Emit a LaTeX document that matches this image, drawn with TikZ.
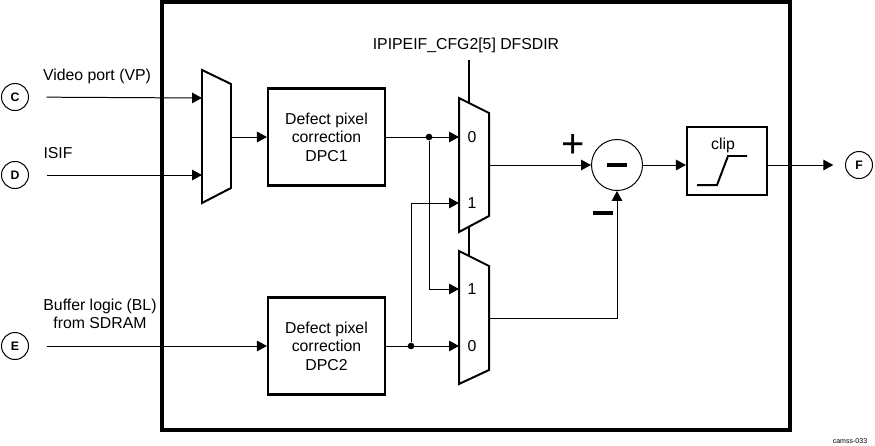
\documentclass[tikz,border=0pt]{standalone}
\usepackage{fontspec}
\setmainfont{Liberation Sans}
\usetikzlibrary{arrows.meta}

\begin{document}
\begin{tikzpicture}[x=0.03cm,y=-0.03cm,line join=miter,
    >={Triangle[length=8.5pt,width=9pt]},
    sig/.style={line width=0.85pt},
    thk/.style={line width=1.7pt},
    blk/.style={draw,line width=1.8pt,minimum width=3.51cm,minimum height=2.91cm,align=center,inner sep=0pt,font=\fontsize{13.5}{15.7}\selectfont},
    port/.style={draw,circle,line width=0.85pt,minimum size=0.81cm,inner sep=0pt,font=\bfseries\fontsize{10.5}{10}\selectfont},
    lbl/.style={inner sep=0pt,font=\fontsize{13.5}{15.7}\selectfont},
    sgn/.style={inner sep=0pt,font=\fontsize{34}{34}\selectfont},
    dot/.style={circle,fill,inner sep=0pt,minimum size=0.2cm}]
    \useasboundingbox (0,0) rectangle (875,445);
    % outer frame
    \draw [line width=2.6pt] (162,2) rectangle (790,430);
    % ports
    \node [port] (C) at (15,97) {C};
    \node [port] (D) at (15,175) {D};
    \node [port] (E) at (15,346) {E};
    \node [port] (F) at (859,165) {F};
    \node [lbl] (vplbl) at (97,76) {Video port (VP)};
    \node [lbl] (isiflbl) at (58,153) {ISIF};
    \node [lbl,align=center] (bllbl) at (100,314) {Buffer logic (BL)\\from SDRAM};
    % input mux
    \draw [thk] (202,70) -- (231,84) -- (231,188) -- (202,203) -- cycle;
    \coordinate (m1a) at (202,98);
    \coordinate (m1b) at (202,175);
    \coordinate (m1o) at (231,137);
    % DPC blocks
    \node [blk] (dpc1) at (326.5,137) {Defect pixel\\correction\\DPC1};
    \node [blk] (dpc2) at (326.5,346) {Defect pixel\\correction\\DPC2};
    % select muxes
    \draw [thk] (459,98) -- (489,113) -- (489,216) -- (459,232) -- cycle;
    \draw [thk] (459,251) -- (489,266) -- (489,370) -- (459,384) -- cycle;
    \coordinate (m2a) at (459,137);
    \coordinate (m2b) at (459,203);
    \coordinate (m2o) at (489,165);
    \coordinate (m3a) at (459,289);
    \coordinate (m3b) at (459,346);
    \coordinate (m3o) at (489,318);
    \node [lbl] (m2l0) at (472,137) {0};
    \node [lbl] (m2l1) at (472,203) {1};
    \node [lbl] (m3l1) at (472,289) {1};
    \node [lbl] (m3l0) at (472,346) {0};
    \node [lbl] (ctllbl) at (466,45) {IPIPEIF\_CFG2[5] DFSDIR};
    \coordinate (ctl) at (469,60);
    \draw [thk] (ctl) -- (469,103);
    \draw [thk] (469,226.7) -- (469,256);
    % subtract and clip
    \node [draw,circle,sig,minimum size=1.53cm,inner sep=0pt] (sub) at (617,165) {\rule{17pt}{4pt}};
    \node [sgn] (plus) at (573,146) {+};
    \node [inner sep=0pt] (minus) at (603,213) {\rule{17pt}{2.8pt}};
    \node [draw,line width=1.8pt,minimum width=2.4cm,minimum height=2.04cm] (clip) at (727,161) {};
    \node [lbl] (cliplbl) at (723,145) {clip};
    \draw [thk] (697,185) -- (717,185) -- (728,156) -- (747,156);
    % junctions
    \node [dot] (j1) at (429,137) {};
    \node [dot] (j2) at (411,346) {};
    % connections
    \draw [sig,->,shorten <=15pt] (C) -- (m1a);
    \draw [sig,->,shorten <=15pt] (D) -- (m1b);
    \draw [sig,->,shorten <=15pt] (E) -- (dpc2.west);
    \draw [sig,->] (m1o) -- (m1o -| dpc1.west);
    \draw [sig,->] (dpc1.east) -- (m2a);
    \draw [sig,->] (dpc2.east) -- (m3b);
    \draw [sig,->] (j1) |- (m3a);
    \draw [sig,->] (j2) |- (m2b);
    \draw [sig,->] (m2o) -- (sub.west);
    \draw [sig,->] (m3o) -| (sub.south);
    \draw [sig,->] (sub.east) -- (sub.east -| clip.west);
    \draw [sig,->,shorten >=10pt] (clip.east |- sub) -- (F);
    \node [inner sep=0pt,font=\fontsize{6}{7}\selectfont] (figid) at (850,441) {camss-033};
\end{tikzpicture}
\end{document}
